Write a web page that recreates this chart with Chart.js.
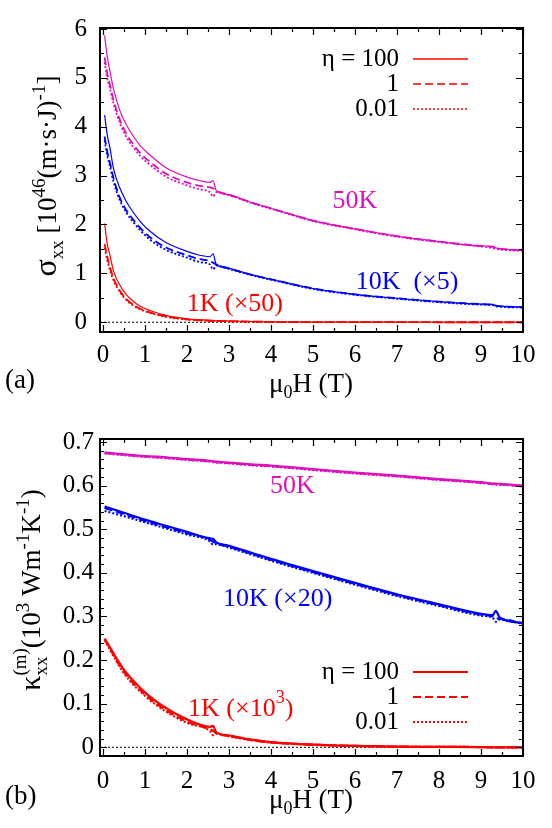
<!DOCTYPE html>
<html>
<head>
<meta charset="utf-8">
<script src="https://cdn.jsdelivr.net/npm/chart.js@4.4.1/dist/chart.umd.min.js"></script>
<style>
  body { margin: 0; background: #fff; }
  canvas { display: block; }
  .probe { position: absolute; left: -999px; top: 0; font-family: "Liberation Serif"; }
</style>
</head>
<body>
<span class="probe">0123 σκμη</span>
<canvas id="sigmaChart" width="552" height="414"></canvas>
<canvas id="kappaChart" width="552" height="414"></canvas>
<script>
// ---- panel (a): sigma_xx vs field ----
const sigmaField = [0.04, 0.1, 0.17, 0.25, 0.4, 0.55, 0.72, 0.9, 1.12, 1.5, 2.0, 2.3, 2.55, 2.62, 2.7, 3.0, 3.5, 4.2, 5, 6, 7, 8, 9, 9.28, 9.35, 10];
const sigma50_eta100 = [5.87, 5.45, 5.12, 4.78, 4.34, 4.05, 3.81, 3.60, 3.42, 3.16, 2.97, 2.90, 2.86, 2.90, 2.69, 2.61, 2.46, 2.28, 2.08, 1.91, 1.76, 1.65, 1.56, 1.555, 1.52, 1.47];
const sigma50_eta1 = [5.42, 5.10, 4.85, 4.55, 4.15, 3.87, 3.64, 3.45, 3.28, 3.04, 2.86, 2.79, 2.76, 2.74, 2.69, 2.61, 2.46, 2.28, 2.08, 1.91, 1.76, 1.65, 1.56, 1.54, 1.52, 1.47];
const sigma50_eta001 = [5.32, 5.00, 4.77, 4.48, 4.08, 3.80, 3.58, 3.39, 3.22, 2.98, 2.80, 2.72, 2.66, 2.57, 2.66, 2.60, 2.45, 2.27, 2.07, 1.90, 1.75, 1.64, 1.55, 1.52, 1.50, 1.46];
const sigma10_eta100 = [4.24, 3.85, 3.55, 3.15, 2.75, 2.48, 2.25, 2.05, 1.86, 1.63, 1.45, 1.37, 1.34, 1.40, 1.18, 1.10, 0.98, 0.84, 0.69, 0.57, 0.49, 0.42, 0.37, 0.365, 0.34, 0.31];
const sigma10_eta1 = [3.80, 3.50, 3.25, 2.95, 2.55, 2.30, 2.10, 1.92, 1.74, 1.53, 1.37, 1.29, 1.25, 1.22, 1.18, 1.10, 0.98, 0.84, 0.69, 0.57, 0.49, 0.42, 0.37, 0.355, 0.34, 0.31];
const sigma10_eta001 = [3.72, 3.42, 3.18, 2.88, 2.50, 2.25, 2.05, 1.87, 1.69, 1.48, 1.32, 1.23, 1.18, 1.08, 1.16, 1.09, 0.97, 0.83, 0.68, 0.56, 0.48, 0.41, 0.36, 0.35, 0.325, 0.30];
const sigma1_eta100 = [2.02, 1.62, 1.36, 1.05, 0.76, 0.57, 0.43, 0.32, 0.24, 0.14, 0.07, 0.05, 0.04, 0.04, 0.03, 0.025, 0.015, 0.008, 0.004, 0.002, 0.001, 0, 0, 0, 0, 0];
const sigma1_eta1 = [1.60, 1.35, 1.12, 0.90, 0.65, 0.48, 0.36, 0.27, 0.20, 0.12, 0.06, 0.04, 0.03, 0.025, 0.025, 0.02, 0.012, 0.007, 0.003, 0.002, 0.001, 0, 0, 0, 0, 0];
const sigma1_eta001 = [1.52, 1.28, 1.06, 0.86, 0.62, 0.46, 0.34, 0.26, 0.19, 0.11, 0.055, 0.04, 0.03, 0.02, 0.025, 0.02, 0.012, 0.007, 0.003, 0.002, 0.001, 0, 0, 0, 0, 0];
const sigmaTicks = [0, 1, 2, 3, 4, 5, 6];

// ---- panel (b): kappa_xx vs field ----
const kappaField = [0.04, 0.5, 1, 1.5, 2, 2.55, 2.62, 2.7, 3, 3.5, 4, 5, 6, 7, 8, 9, 9.28, 9.35, 9.45, 10];
const kappa50_eta100 = [0.676, 0.672, 0.668, 0.665, 0.661, 0.657, 0.656, 0.655, 0.653, 0.649, 0.646, 0.638, 0.630, 0.623, 0.615, 0.608, 0.605, 0.605, 0.604, 0.600];
const kappa50_eta1 = [0.675, 0.671, 0.667, 0.664, 0.660, 0.656, 0.655, 0.654, 0.652, 0.648, 0.645, 0.637, 0.629, 0.622, 0.614, 0.607, 0.604, 0.604, 0.603, 0.599];
const kappa50_eta001 = [0.674, 0.670, 0.666, 0.663, 0.659, 0.655, 0.654, 0.653, 0.651, 0.647, 0.644, 0.636, 0.628, 0.621, 0.613, 0.606, 0.603, 0.602, 0.602, 0.598];
const kappa10_eta100 = [0.552, 0.538, 0.522, 0.508, 0.494, 0.479, 0.478, 0.470, 0.462, 0.447, 0.432, 0.404, 0.377, 0.351, 0.328, 0.306, 0.303, 0.313, 0.297, 0.285];
const kappa10_eta1 = [0.549, 0.535, 0.519, 0.505, 0.491, 0.476, 0.472, 0.468, 0.460, 0.445, 0.430, 0.402, 0.375, 0.349, 0.326, 0.304, 0.300, 0.296, 0.295, 0.284];
const kappa10_eta001 = [0.542, 0.530, 0.516, 0.502, 0.488, 0.472, 0.465, 0.466, 0.458, 0.443, 0.428, 0.400, 0.373, 0.347, 0.324, 0.302, 0.297, 0.288, 0.293, 0.283];
const kappa1_eta100 = [0.249, 0.178, 0.126, 0.090, 0.064, 0.047, 0.049, 0.034, 0.027, 0.018, 0.012, 0.006, 0.003, 0.0015, 0.001, 0.0005, 0, 0, 0, 0];
const kappa1_eta1 = [0.248, 0.173, 0.121, 0.085, 0.059, 0.041, 0.038, 0.032, 0.026, 0.017, 0.011, 0.006, 0.003, 0.0015, 0.001, 0.0005, 0, 0, 0, 0];
const kappa1_eta001 = [0.246, 0.170, 0.118, 0.082, 0.056, 0.037, 0.028, 0.031, 0.025, 0.017, 0.011, 0.006, 0.003, 0.0015, 0.001, 0.0005, 0, 0, 0, 0];
const kappaTicks = [0, 0.1, 0.2, 0.3, 0.4, 0.5, 0.6, 0.7];

const fieldTicks = [0, 1, 2, 3, 4, 5, 6, 7, 8, 9, 10];
const etaLabels = ['η = 100', '1', '0.01'];

const MAGENTA = 'rgb(221, 17, 187)';
const BLUE = '#0000ff';
const RED = '#ff0000';
const SERIF = "'Liberation Serif', 'DejaVu Serif', serif";
const font = s => s + 'px ' + SERIF;

function pts(xs, ys) {
  return xs.map((x, i) => ({ x: x, y: ys[i] }));
}

// text with sub/superscripts; parts = [{t, s, dy, stack}]
function richText(ctx, parts, x, y, rot, align, color) {
  ctx.save();
  ctx.translate(x, y);
  ctx.rotate(rot || 0);
  ctx.textBaseline = 'alphabetic';
  ctx.textAlign = 'left';
  let w = 0, prevStart = 0;
  const xs = parts.map(p => {
    ctx.font = font(p.s);
    const pw = ctx.measureText(p.t).width;
    const sx = p.stack ? prevStart : w;
    prevStart = sx;
    w = Math.max(w, sx + pw);
    return sx;
  });
  const off = align === 'center' ? -w / 2 : (align === 'right' ? -w : 0);
  parts.forEach((p, i) => {
    ctx.font = font(p.s);
    ctx.fillStyle = p.color || color || '#000';
    ctx.fillText(p.t, off + xs[i], p.dy || 0);
  });
  ctx.restore();
}

// box, inward ticks, legend, labels
const framePlugin = {
  id: 'frame',
  beforeDatasetsDraw(chart) {
    const { ctx, chartArea: a } = chart;
    ctx.save();
    ctx.beginPath();
    ctx.rect(a.left, a.top, a.right - a.left, a.bottom - a.top);
    ctx.clip();
  },
  afterDatasetsDraw(chart, args, o) {
    const { ctx, chartArea: a, scales: { x, y } } = chart;
    ctx.restore();
    ctx.save();
    ctx.strokeStyle = '#000';
    ctx.lineWidth = 1.2;
    ctx.beginPath();
    for (let v = 0; v <= 10.001; v += 0.5) {
      const px = Math.round(x.getPixelForValue(v)) + 0.5;
      const len = Math.abs(v - Math.round(v)) < 1e-6 ? 7 : 4;
      ctx.moveTo(px, a.bottom); ctx.lineTo(px, a.bottom - len);
      ctx.moveTo(px, a.top); ctx.lineTo(px, a.top + len);
    }
    const yMax = o.yTicks[o.yTicks.length - 1];
    for (let k = 0; k * o.yMinor <= yMax + 1e-9; k++) {
      const v = k * o.yMinor;
      const py = Math.round(y.getPixelForValue(v)) + 0.5;
      const len = k % o.minorPerMajor === 0 ? 7 : 4;
      ctx.moveTo(a.left, py); ctx.lineTo(a.left + len, py);
      ctx.moveTo(a.right, py); ctx.lineTo(a.right - len, py);
    }
    ctx.stroke();
    ctx.lineWidth = 2;
    ctx.strokeRect(a.left, a.top, a.right - a.left, a.bottom - a.top);

    // legend with the red curves' styles
    o.legendRows.forEach((row, i) => {
      const ds = chart.data.datasets[row.ds];
      const ly = o.legendY + i * 25;
      ctx.font = font(25);
      ctx.fillStyle = '#000';
      ctx.textAlign = 'right';
      ctx.textBaseline = 'middle';
      ctx.fillText(row.label, 399, ly);
      ctx.beginPath();
      ctx.strokeStyle = ds.borderColor;
      ctx.lineWidth = o.legendWidth;
      ctx.setLineDash(ds.borderDash || []);
      ctx.moveTo(413, ly); ctx.lineTo(468, ly);
      ctx.stroke();
      ctx.setLineDash([]);
    });

    // curve labels at data positions
    o.notes.forEach(n => {
      richText(ctx, n.parts, x.getPixelForValue(n.x), y.getPixelForValue(n.y), 0, 'center', n.color);
    });
    ctx.restore();
  },
  afterDraw(chart, args, o) {
    const { ctx } = chart;
    richText(ctx, o.xTitle, 311, o.xTitleY, 0, 'center');
    richText(ctx, o.yTitle, o.yTitleX, o.yTitleY, -Math.PI / 2, 'center');
    ctx.save();
    ctx.font = font(27);
    ctx.fillStyle = '#000';
    ctx.textAlign = 'left';
    ctx.fillText(o.tag, 5, o.xTitleY - 4);
    ctx.restore();
  }
};

function curve(xs, ys, color, kind, width) {
  return {
    data: pts(xs, ys),
    borderColor: color,
    borderWidth: kind === 'solid' ? width : width + 0.6,
    borderDash: kind === 'dashed' ? [8, 4] : (kind === 'dotted' ? [2, 2] : []),
    pointRadius: 0,
    fill: false,
    cubicInterpolationMode: 'monotone'
  };
}

function makeChart(id, cfg) {
  return new Chart(document.getElementById(id), {
    type: 'line',
    data: { datasets: cfg.datasets },
    plugins: [framePlugin],
    options: {
      responsive: false,
      animation: false,
      events: [],
      layout: { padding: { top: cfg.top, right: 29, bottom: 0, left: 0 } },
      plugins: {
        legend: { display: false },
        tooltip: { enabled: false },
        frame: cfg.frame
      },
      scales: {
        x: {
          type: 'linear',
          min: -0.07,
          max: 10,
          afterFit: s => { s.height = cfg.xHeight; },
          afterBuildTicks: s => { s.ticks = fieldTicks.map(v => ({ value: v })); },
          grid: { display: false, drawTicks: false },
          border: { display: false },
          ticks: { font: { family: SERIF, size: 25 }, color: '#000', padding: cfg.xPad, maxRotation: 0 }
        },
        y: {
          type: 'linear',
          min: cfg.yMin,
          max: cfg.yMax,
          afterFit: s => { s.width = 100; },
          afterBuildTicks: s => { s.ticks = cfg.yTicks.map(v => ({ value: v })); },
          grid: { display: false, drawTicks: false },
          border: { display: false },
          ticks: { font: { family: SERIF, size: 25 }, color: '#000', padding: cfg.yPad, callback: v => String(v) }
        }
      }
    }
  });
}

const fieldTitle = [{ t: 'μ', s: 27 }, { t: '0', s: 18, dy: 6 }, { t: 'H (T)', s: 27 }];

function drawAll() {
  makeChart('sigmaChart', {
    top: 14, xHeight: 82, xPad: 8, yPad: 13,
    yMin: -0.2, yMax: 6.02, yTicks: sigmaTicks,
    datasets: [
      curve(sigmaField, sigma1_eta100, RED, 'solid', 1.2),
      curve(sigmaField, sigma1_eta1, RED, 'dashed', 1.2),
      curve(sigmaField, sigma1_eta001, RED, 'dotted', 1.2),
      curve(sigmaField, sigma10_eta100, BLUE, 'solid', 1.2),
      curve(sigmaField, sigma10_eta1, BLUE, 'dashed', 1.2),
      curve(sigmaField, sigma10_eta001, BLUE, 'dotted', 1.2),
      curve(sigmaField, sigma50_eta100, MAGENTA, 'solid', 1.2),
      curve(sigmaField, sigma50_eta1, MAGENTA, 'dashed', 1.2),
      curve(sigmaField, sigma50_eta001, MAGENTA, 'dotted', 1.2),
      { data: pts([-0.07, 10], [0, 0]), borderColor: '#000', borderWidth: 1, borderDash: [2, 2], pointRadius: 0 }
    ],
    frame: {
      yTicks: sigmaTicks, yMinor: 0.5, minorPerMajor: 2,
      legendY: 59, legendWidth: 1.4,
      legendRows: [{ label: etaLabels[0], ds: 0 }, { label: etaLabels[1], ds: 1 }, { label: etaLabels[2], ds: 2 }],
      notes: [
        { x: 6.0, y: 2.52, color: MAGENTA, parts: [{ t: '50K', s: 26, dy: 9 }] },
        { x: 7.24, y: 0.86, color: BLUE, parts: [{ t: '10K  (×5)', s: 26, dy: 9 }] },
        { x: 3.14, y: 0.41, color: RED, parts: [{ t: '1K (×50)', s: 26, dy: 9 }] }
      ],
      tag: '(a)', xTitle: fieldTitle, xTitleY: 392,
      yTitleX: 56, yTitleY: 176,
      yTitle: [{ t: 'σ', s: 32 }, { t: 'xx', s: 19, dy: 7 }, { t: ' [10', s: 27 }, { t: '46', s: 19, dy: -11 },
               { t: '(m·s·J)', s: 27 }, { t: '-1', s: 19, dy: -11 }, { t: ']', s: 27 }]
    }
  });

  makeChart('kappaChart', {
    top: 25, xHeight: 72, xPad: 10, yPad: 6,
    yMin: -0.02, yMax: 0.707, yTicks: kappaTicks,
    datasets: [
      curve(kappaField, kappa1_eta100, RED, 'solid', 2.2),
      curve(kappaField, kappa1_eta1, RED, 'dashed', 1.6),
      curve(kappaField, kappa1_eta001, RED, 'dotted', 1.6),
      curve(kappaField, kappa10_eta100, BLUE, 'solid', 2.2),
      curve(kappaField, kappa10_eta1, BLUE, 'dashed', 1.6),
      curve(kappaField, kappa10_eta001, BLUE, 'dotted', 1.6),
      curve(kappaField, kappa50_eta100, MAGENTA, 'solid', 2.2),
      curve(kappaField, kappa50_eta1, MAGENTA, 'dashed', 1.6),
      curve(kappaField, kappa50_eta001, MAGENTA, 'dotted', 1.6),
      { data: pts([-0.07, 10], [0, 0]), borderColor: '#000', borderWidth: 1, borderDash: [2, 2], pointRadius: 0 }
    ],
    frame: {
      yTicks: kappaTicks, yMinor: 0.02, minorPerMajor: 5,
      legendY: 258, legendWidth: 2.2,
      legendRows: [{ label: etaLabels[0], ds: 0 }, { label: etaLabels[1], ds: 1 }, { label: etaLabels[2], ds: 2 }],
      notes: [
        { x: 4.51, y: 0.603, color: MAGENTA, parts: [{ t: '50K', s: 26, dy: 9 }] },
        { x: 4.16, y: 0.344, color: BLUE, parts: [{ t: '10K (×20)', s: 26, dy: 9 }] },
        { x: 3.28, y: 0.092, color: RED, parts: [{ t: '1K (×10', s: 26, dy: 9 }, { t: '3', s: 18, dy: -4 }, { t: ')', s: 26, dy: 9 }] }
      ],
      tag: '(b)', xTitle: fieldTitle, xTitleY: 394,
      yTitleX: 40, yTitleY: 176,
      yTitle: [{ t: 'κ', s: 30 }, { t: 'xx', s: 19, dy: 7 }, { t: '(m)', s: 19, dy: -14, stack: true }, { t: '(10', s: 27 },
               { t: '3', s: 19, dy: -11 }, { t: ' Wm', s: 27 }, { t: '-1', s: 19, dy: -11 }, { t: 'K', s: 27 },
               { t: '-1', s: 19, dy: -11 }, { t: ')', s: 27 }]
    }
  });
}

if (document.fonts && document.fonts.load) {
  document.fonts.load("25px 'Liberation Serif'").then(drawAll, drawAll);
} else {
  drawAll();
}
</script>
</body>
</html>
